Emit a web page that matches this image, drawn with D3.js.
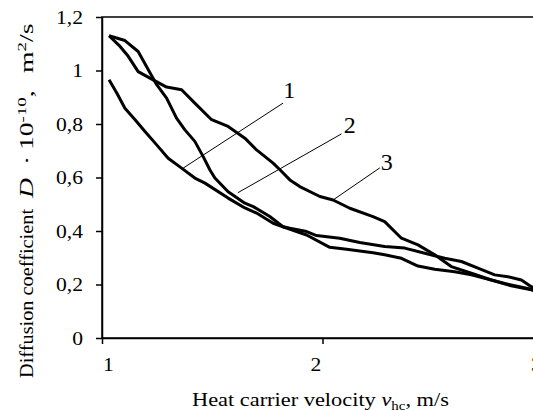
<!DOCTYPE html>
<html>
<head>
<meta charset="utf-8">
<script src="https://cdn.jsdelivr.net/npm/d3@7"></script>
<style>
body{margin:0;background:#fff}
svg{display:block}
text{font-family:"Liberation Serif","Times New Roman",serif;fill:#000}
</style>
</head>
<body>
<div id="chart"></div>
<script>
// curve 1
var v1=[1.032,1.067,1.104,1.150,1.195,1.248,1.300,1.361,1.421,1.467,1.572,1.648,1.701,1.776,1.821,1.852,1.928,1.973,2.078,2.169,2.282,2.373,2.464,2.554,2.630,2.705,2.781,2.841,2.902,2.947,3.0];
var d1=[0.965,0.916,0.859,0.816,0.772,0.722,0.672,0.635,0.598,0.579,0.523,0.486,0.467,0.429,0.416,0.410,0.398,0.383,0.373,0.357,0.342,0.336,0.317,0.298,0.286,0.261,0.236,0.229,0.217,0.192,0.175];
// curve 2
var v2=[1.032,1.104,1.164,1.210,1.248,1.293,1.338,1.376,1.421,1.459,1.489,1.512,1.572,1.648,1.686,1.761,1.821,1.928,2.033,2.109,2.229,2.282,2.358,2.433,2.509,2.600,2.675,2.766,2.856,2.947,3.0];
var d2=[1.130,1.112,1.071,1.003,0.947,0.897,0.822,0.778,0.735,0.678,0.629,0.598,0.547,0.504,0.491,0.454,0.416,0.385,0.339,0.332,0.319,0.311,0.298,0.269,0.257,0.248,0.236,0.217,0.198,0.182,0.170];
// curve 3
var v3=[1.032,1.082,1.119,1.164,1.232,1.293,1.361,1.421,1.497,1.572,1.648,1.701,1.776,1.807,1.852,1.897,1.988,2.048,2.124,2.229,2.282,2.358,2.433,2.509,2.584,2.675,2.766,2.856,2.947,3.0];
var d3v=[1.130,1.090,1.053,0.996,0.965,0.938,0.928,0.878,0.816,0.791,0.747,0.703,0.654,0.629,0.591,0.566,0.529,0.516,0.485,0.454,0.435,0.373,0.348,0.311,0.267,0.242,0.217,0.195,0.180,0.165];

var xTicks=[1,2,3];
var xTickLabels=["1","2","3"];
var yTicks=[0,0.2,0.4,0.6,0.8,1,1.2];
var yTickLabels=["0","0,2","0,4","0,6","0,8","1","1,2"];

// curve numbers with leader lines (in data units)
var curveNames=["1","2","3"];
var nameV=[1.849,2.124,2.291], nameD=[0.898,0.767,0.629];
var leadFromV=[1.821,2.086,2.260], leadFromD=[0.878,0.763,0.636];
var leadToV=[1.368,1.616,2.048], leadToD=[0.635,0.543,0.516];

var W=533,H=410;
var padL=102,padT=17,plotW=441,plotH=321;
var sx=1.2; // glyphs in the picture are wider than Times
var xLabelShift=[6,-7,-7];

var svg=d3.select("#chart").append("svg")
    .attr("width",W).attr("height",H);

var x=d3.scaleLinear().domain([1,3]).range([padL,padL+plotW]);
var y=d3.scaleLinear().domain([0,1.2]).range([padT+plotH,padT]);

/*plot frame (right side is outside the picture)*/
svg.append("rect")
    .attr("x",padL).attr("y",padT)
    .attr("width",plotW).attr("height",plotH)
    .attr("fill","none").attr("stroke","#000").attr("stroke-width",1.5);

/*y axis*/
var yAxis=d3.axisLeft(y)
    .tickValues(yTicks)
    .tickFormat(function(d,i){return yTickLabels[i];})
    .tickSize(6).tickSizeOuter(0);
var gy=svg.append("g").attr("transform","translate("+padL+",0)").call(yAxis);
gy.selectAll("text")
    .attr("font-size",18)
    .attr("x",-19/sx).attr("dy","0.36em")
    .attr("transform","scale("+sx+",1)");

/*x axis*/
var xAxis=d3.axisBottom(x)
    .tickValues(xTicks)
    .tickFormat(function(d,i){return xTickLabels[i];})
    .tickSize(6).tickSizeOuter(0);
var gx=svg.append("g").attr("transform","translate(0,"+(padT+plotH)+")").call(xAxis);
gx.selectAll("text")
    .attr("font-size",18)
    .attr("y",33).attr("dy",0)
    .attr("x",function(d,i){return xLabelShift[i]/sx;})
    .attr("transform","scale("+sx+",1)");

svg.selectAll("g").attr("font-family",null);
svg.selectAll(".domain,.tick line").attr("stroke","#000").attr("stroke-width",1.5);

/*curves*/
var line=d3.line().x(function(d){return x(d[0]);}).y(function(d){return y(d[1]);});
[[v1,d1],[v2,d2],[v3,d3v]].forEach(function(s){
    svg.append("path")
        .datum(d3.zip(s[0],s[1]))
        .attr("d",line)
        .attr("fill","none").attr("stroke","#000")
        .attr("stroke-width",3).attr("stroke-linejoin","round");
});

/*leader lines and numbers*/
curveNames.forEach(function(n,i){
    svg.append("line")
        .attr("x1",x(leadFromV[i])).attr("y1",y(leadFromD[i]))
        .attr("x2",x(leadToV[i])).attr("y2",y(leadToD[i]))
        .attr("stroke","#000").attr("stroke-width",1);
    svg.append("text")
        .attr("x",x(nameV[i])).attr("y",y(nameD[i]))
        .attr("text-anchor","middle").attr("font-size",24)
        .text(n);
});

/*axis titles*/
var xt=svg.append("text").attr("font-size",18);
xt.append("tspan").text("Heat carrier velocity ");
xt.append("tspan").attr("font-style","italic").text("v");
xt.append("tspan").attr("font-size",12).attr("dy",4).text("hc");
xt.append("tspan").attr("dy",-4).text(", m/s");
var xw=xt.node().getBBox().width;
xt.attr("transform","translate(192,406) scale("+(257/xw)+",1)");

/*y title: words, then the formula part*/
var yt=svg.append("text").attr("font-size",19).text("Diffusion coefficient");
var yw=yt.node().getBBox().width;
yt.attr("transform","translate(33,378) rotate(-90) scale("+(170/yw)+",1)");

var yf=svg.append("text").attr("font-size",19);
yf.append("tspan").attr("font-style","italic").text("D");
yf.append("tspan").attr("dx",9).text("·");
yf.append("tspan").attr("dx",4).text("10");
yf.append("tspan").attr("font-size",13).attr("dy",-7).text("-10");
yf.append("tspan").attr("dy",7).text(",");
yf.append("tspan").attr("dx",12).text("m");
yf.append("tspan").attr("font-size",13).attr("dy",-7).text("2");
yf.append("tspan").attr("dy",7).text("/s");
var fw=yf.node().getBBox().width;
yf.attr("transform","translate(33,198) rotate(-90) scale("+(176/fw)+",1)");
</script>
</body>
</html>
